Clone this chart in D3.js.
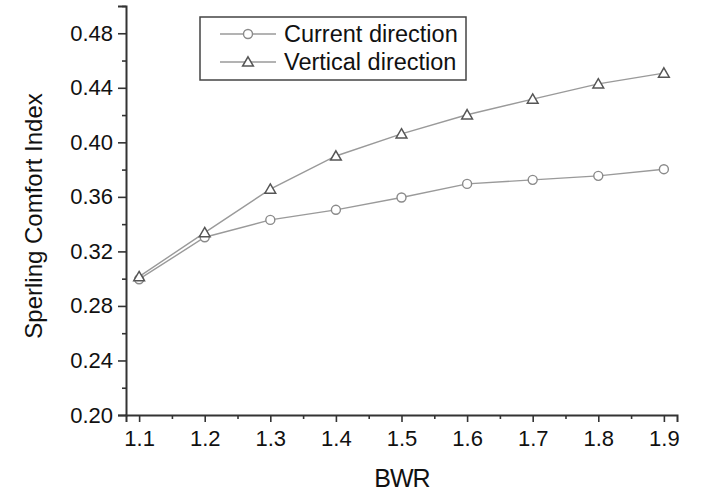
<!DOCTYPE html>
<html>
<head>
<meta charset="utf-8">
<script src="https://cdn.jsdelivr.net/npm/d3@7"></script>
<style>
  body { margin: 0; background: #fff; }
  text { font-family: "Liberation Sans", Arial, sans-serif; fill: #111; }
</style>
</head>
<body>
<div class="vis-chart"></div>
<script>
const bwr = [1.1, 1.2, 1.3, 1.4, 1.5, 1.6, 1.7, 1.8, 1.9];
const currentDir = [0.2996, 0.3304, 0.3431, 0.3505, 0.3595, 0.3695, 0.3725, 0.3754, 0.3803];
const verticalDir = [0.3015, 0.3338, 0.3657, 0.3900, 0.4062, 0.4202, 0.4317, 0.4429, 0.4508];
const xTicks = [1.1, 1.2, 1.3, 1.4, 1.5, 1.6, 1.7, 1.8, 1.9];
const xMinor = [1.15, 1.25, 1.35, 1.45, 1.55, 1.65, 1.75, 1.85];
const yTicks = [0.2, 0.24, 0.28, 0.32, 0.36, 0.4, 0.44, 0.48];
const yMinor = [0.22, 0.26, 0.3, 0.34, 0.38, 0.42, 0.46, 0.5];
const seriesNames = ["Current direction", "Vertical direction"];

const width = 703, height = 492;
const svg = d3.select(".vis-chart").append("svg")
  .attr("width", width).attr("height", height);

const x = d3.scaleLinear().domain([1.08, 1.92]).range([126, 677]);
const y = d3.scaleLinear().domain([0.2, 0.5]).range([415, 6]);

// minor ticks first
svg.append("g").attr("class", "x-minor")
  .attr("transform", "translate(0,415)")
  .call(d3.axisBottom(x).tickValues(xMinor).tickSize(4).tickFormat(""));
svg.append("g").attr("class", "y-minor")
  .attr("transform", "translate(126,0)")
  .call(d3.axisLeft(y).tickValues(yMinor).tickSize(4).tickFormat(""));

let xAxis = svg.append("g").attr("class", "x-axis")
  .attr("transform", "translate(0,415)")
  .call(d3.axisBottom(x).tickValues(xTicks).tickSize(7).tickPadding(8)
    .tickFormat(d3.format(".1f")));
let yAxis = svg.append("g").attr("class", "y-axis")
  .attr("transform", "translate(126,0)")
  .call(d3.axisLeft(y).tickValues(yTicks).tickSize(8).tickPadding(5)
    .tickFormat(d3.format(".2f")));

svg.selectAll(".x-minor path, .y-minor path").remove();
svg.selectAll(".domain").attr("stroke", "#333").attr("stroke-width", 2);
svg.selectAll(".tick line").attr("stroke", "#333").attr("stroke-width", 1.6);
svg.selectAll(".x-axis text, .y-axis text")
  .style("font-size", "22px").attr("fill", "#111");

svg.append("text")
  .attr("x", 402).attr("y", 487)
  .style("text-anchor", "middle").style("font-size", "25px")
  .style("letter-spacing", "-1px")
  .text("BWR");

svg.append("text")
  .attr("transform", "rotate(-90)")
  .attr("x", -216).attr("y", 42)
  .style("text-anchor", "middle").style("font-size", "24px")
  .text("Sperling Comfort Index");

const line = d3.line().x((d, i) => x(bwr[i])).y((d) => y(d));

svg.append("path").datum(currentDir)
  .attr("fill", "none").attr("stroke", "#9a9a9a").attr("stroke-width", 1.4)
  .attr("d", line);
svg.append("path").datum(verticalDir)
  .attr("fill", "none").attr("stroke", "#9a9a9a").attr("stroke-width", 1.4)
  .attr("d", line);

const tri = d3.symbol().type(d3.symbolTriangle).size(50);

svg.selectAll(".dot-c").data(currentDir).enter().append("circle")
  .attr("class", "dot-c")
  .attr("cx", (d, i) => x(bwr[i])).attr("cy", (d) => y(d))
  .attr("r", 4.5).attr("fill", "#fff").attr("stroke", "#8a8a8a").attr("stroke-width", 1.4);

svg.selectAll(".dot-v").data(verticalDir).enter().append("path")
  .attr("class", "dot-v")
  .attr("transform", (d, i) => "translate(" + x(bwr[i]) + "," + (y(d) + 1) + ")")
  .attr("d", tri).attr("fill", "#fff").attr("stroke", "#555").attr("stroke-width", 1.5);

// legend
let legend = svg.append("g").attr("class", "legend");
legend.append("rect")
  .attr("x", 200).attr("y", 17).attr("width", 266).attr("height", 63)
  .attr("fill", "#fff").attr("stroke", "#444").attr("stroke-width", 1.5);

seriesNames.forEach((name, i) => {
  let cy = 34 + i * 28;
  legend.append("line")
    .attr("x1", 220).attr("x2", 276).attr("y1", cy).attr("y2", cy)
    .attr("stroke", "#9a9a9a").attr("stroke-width", 1.4);
  if (i === 0) {
    legend.append("circle").attr("cx", 248).attr("cy", cy).attr("r", 4.5)
      .attr("fill", "#fff").attr("stroke", "#8a8a8a").attr("stroke-width", 1.4);
  } else {
    legend.append("path").attr("transform", "translate(248," + (cy + 1) + ")")
      .attr("d", tri).attr("fill", "#fff").attr("stroke", "#555").attr("stroke-width", 1.5);
  }
  legend.append("text")
    .attr("x", 284).attr("y", cy)
    .attr("dy", "0.36em")
    .style("font-size", "23.5px")
    .text(name);
});
</script>
</body>
</html>
